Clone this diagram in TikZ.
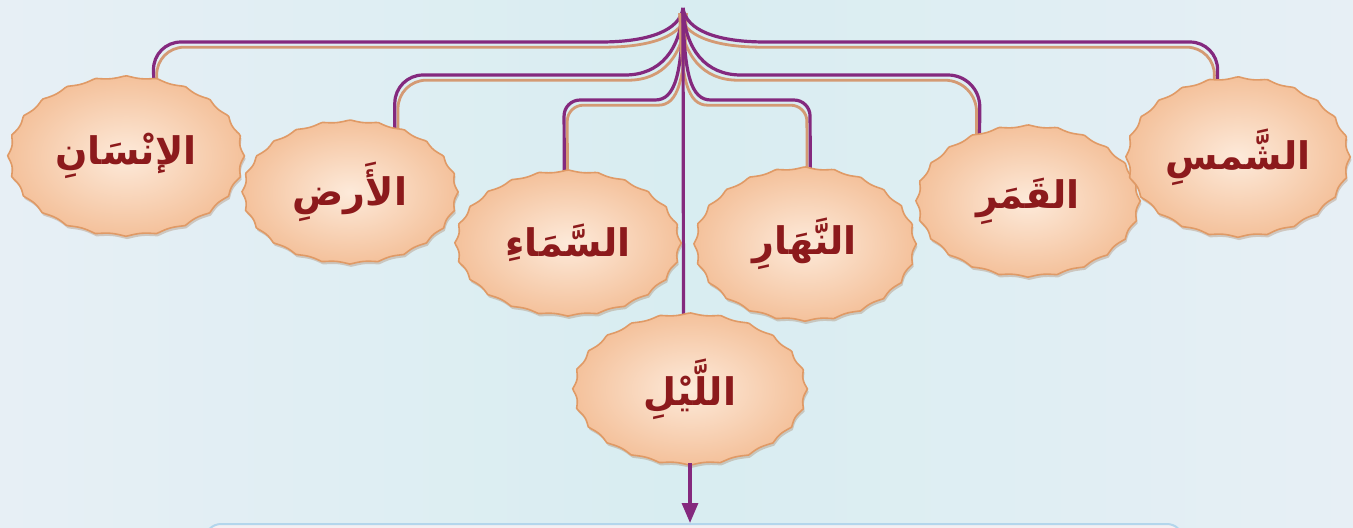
\documentclass[tikz,border=0pt]{standalone}
\usepackage{fontspec}
\newfontfamily\arabicfont[Script=Arabic]{DejaVu Sans}
\TeXXeTstate=1
\usetikzlibrary{shapes.geometric,shadows,arrows.meta}

\definecolor{bgmid}{HTML}{D8EDF1}
\definecolor{bgedge}{HTML}{E7EFF5}
\definecolor{blobin}{HTML}{FDEADA}
\definecolor{blobout}{HTML}{F4C19B}
\definecolor{blobrim}{HTML}{E09A66}
\definecolor{wordred}{HTML}{8C1A1C}
\definecolor{wirepurple}{HTML}{84297E}
\definecolor{wiretan}{HTML}{D49A74}
\definecolor{boxline}{HTML}{B3D6EC}
\definecolor{boxfill}{HTML}{F4EFF2}

\pgfdeclarelayer{background}
\pgfdeclarelayer{wires}
\pgfsetlayers{background,wires,main}

\tikzset{
 blob/.style={inner color=blobin, outer color=blobout, draw=blobrim, line width=0.8pt,
   drop shadow={opacity=0.3, shadow xshift=0.6pt, shadow yshift=-1.4pt, fill=blobrim!70!black}},
 word/.style={ellipse, inner sep=0pt, text=wordred, font=\arabicfont\bfseries\fontsize{19}{21}\selectfont},
 wire/.style={draw=wirepurple, line width=1.6pt},
 wireleft/.style={draw=wiretan, line width=1.4pt, transform canvas={shift={(1.6pt,-2.6pt)}}},
 wireright/.style={draw=wiretan, line width=1.4pt, transform canvas={shift={(-1.6pt,-2.6pt)}}},
}

\begin{document}
\begin{tikzpicture}[x=0.5pt,y=-0.5pt]
 \useasboundingbox (0,0) rectangle (1353,527);
 \clip (0,0) rectangle (1353,527);

 %Background
 \begin{pgfonlayer}{background}
  \shade[left color=bgedge, right color=bgedge, middle color=bgmid] (0,0) rectangle (1353,527);
  \draw[boxline, fill=boxfill, line width=1pt, rounded corners=8pt] (205,524) rectangle (1183,570);
 \end{pgfonlayer}

 %Coordinates
 \coordinate (hub) at (683,8);
 \coordinate (tip) at (690,523);

 %Words
 \foreach \nm/\cx/\cy/\rx/\ry/\txt in {
   insan/126/156/115/78/الإنْسَانِ,
   ard/350/192/105/70/الأَرضِ,
   samaa/568/243/110/71/السَّمَاءِ,
   nahar/805/244/108/75/النَّهَارِ,
   qamar/1028/201/109/74/القَمَرِ,
   shams/1238/157/109/78/الشَّمسِ,
   layl/690/389/114/74/اللَّيْلِ}
 {
  \shade[blob] plot[domain=0:359, samples=240, variable=\t]
    ({\cx+\rx*(1+0.03*(1-abs(sin(12*\t))))*cos(\t)}, {\cy+\ry*(1+0.03*(1-abs(sin(12*\t))))*sin(\t)}) -- cycle;
  \node[word, minimum width=\rx pt, minimum height=\ry pt] (\nm) at (\cx,\cy) {\beginR\txt\endR};
 }

 %Connectors
 \begin{pgfonlayer}{wires}
  \foreach \sty in {wireleft, wire} {
   \draw[\sty] (hub) .. controls (680,30) and (650,42) .. (600,42) [rounded corners=14pt] -- (153,42) -- (insan.70);
   \draw[\sty] (hub) .. controls (681,50) and (660,75) .. (625,75) [rounded corners=14pt] -- (395,75) -- (ard.55);
   \draw[\sty] (hub) .. controls (682,75) and (675,100) .. (655,100) [rounded corners=8pt] -- (564,100) -- (samaa.93);
  }
  \foreach \sty in {wireright, wire} {
   \draw[\sty] (hub) .. controls (686,30) and (716,42) .. (766,42) [rounded corners=14pt] -- (1218,42) -- (shams.105);
   \draw[\sty] (hub) .. controls (685,50) and (706,75) .. (741,75) [rounded corners=16pt] -- (980,75) -- (qamar.126);
   \draw[\sty] (hub) .. controls (684,75) and (691,100) .. (711,100) [rounded corners=8pt] -- (810,100) -- (nahar.86);
  }
  \draw[wire] (hub) -- (layl.95);
 \end{pgfonlayer}
 \draw[wire, -{Triangle[width=8pt,length=10pt]}] (layl.south) -- (tip);

\end{tikzpicture}
\end{document}
